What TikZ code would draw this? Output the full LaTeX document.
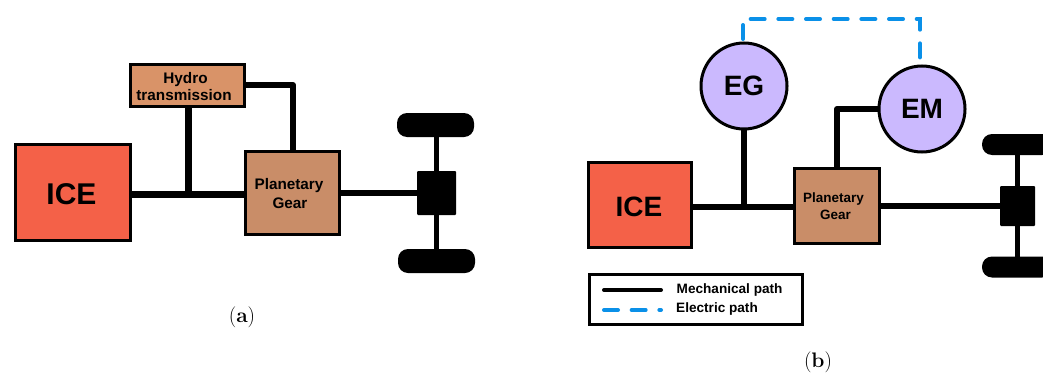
\documentclass[tikz,border=0pt]{standalone}
\usepackage{fontspec}
\newfontfamily\hvb[BoldFont={Liberation Sans Bold}]{Liberation Sans}
\definecolor{icered}{HTML}{F46148}
\definecolor{hydro}{HTML}{D99368}
\definecolor{plan}{HTML}{C98D68}
\definecolor{lilac}{HTML}{CBB9FE}
\definecolor{elec}{HTML}{0A90E8}
\tikzset{
  blockbox/.style={draw=black,line width=3pt,inner sep=0pt,outer sep=0pt,align=center,font=\hvb\bfseries},
  motor/.style={circle,draw=black,line width=3pt,fill=lilac,inner sep=0pt,outer sep=0pt,minimum size=86pt,font=\hvb\bfseries\fontsize{28}{30}\selectfont},
  wheel/.style={fill=black,rounded corners=10pt,inner sep=0pt,outer sep=0pt},
  diffbox/.style={fill=black,rounded corners=1pt,inner sep=0pt,outer sep=0pt},
  shaft/.style={line width=#1,draw=black,line join=round},
  shaft/.default=7pt,
  elecpath/.style={draw=elec,line width=4pt,line cap=round,dash pattern=on 14pt off 13.67pt},
  caption/.style={font=\fontsize{21}{23}\selectfont,inner sep=0pt},
  legendtext/.style={font=\hvb\bfseries\fontsize{13.6}{15}\selectfont,inner sep=0pt,anchor=west}
}
\begin{document}
\begin{tikzpicture}[x=1pt,y=-1pt]
\path[use as bounding box,clip] (0,0) rectangle (1043,372);
% (a)
\coordinate (ja) at (188,194);
\node[blockbox,fill=icered,minimum width=115pt,minimum height=96pt,font=\hvb\bfseries\fontsize{30}{32}\selectfont] (iceA) at (73,192.5) {\rule{0pt}{25pt}ICE\hspace*{3pt}};
\node[blockbox,fill=hydro,minimum width=114pt,minimum height=42pt,font=\hvb\bfseries\fontsize{15.3}{17}\selectfont] (hyd) at (187.5,85.5) {\rule{0pt}{13pt}Hydro\hspace*{4pt}\\transmission\hspace*{7pt}};
\node[blockbox,fill=plan,minimum width=94pt,minimum height=83pt,font=\hvb\bfseries\fontsize{15.3}{19}\selectfont] (pgA) at (292.5,193) {\rule{0pt}{13pt}Planetary\hspace*{7pt}\\Gear\hspace*{5pt}};
\node[diffbox,minimum width=39pt,minimum height=44pt] (diffA) at (436.5,193) {};
\node[wheel,minimum width=77pt,minimum height=24pt] (wtA) at (435.5,125) {};
\node[wheel,minimum width=77pt,minimum height=24pt] (wbA) at (436.5,261) {};
\draw[shaft] (iceA.east |- ja) -- (pgA.west |- ja);
\draw[shaft] (hyd.south -| ja) -- (ja);
\draw[shaft=6pt] (hyd.east |- 0,85) -- (293,85) -- (pgA.north -| 293,0);
\draw[shaft=6pt] (pgA.east |- diffA) -- (diffA.west);
\draw[shaft=5pt] (wtA.south -| diffA) -- (wbA.north -| diffA);
\node[caption] (capA) at (242,317) {(\textbf{a})};
% (b)
\coordinate (jb) at (744,207);
\node[blockbox,fill=icered,minimum width=103pt,minimum height=85pt,font=\hvb\bfseries\fontsize{28}{30}\selectfont] (iceB) at (640,205) {\rule{0pt}{23pt}ICE\hspace*{2pt}};
\node[motor] (eg) at (744,86) {EG};
\node[motor] (em) at (922,109) {EM};
\node[blockbox,fill=plan,minimum width=85pt,minimum height=75pt,font=\hvb\bfseries\fontsize{13.5}{16.5}\selectfont] (pgB) at (837,206) {Planetary\hspace*{7pt}\\Gear\hspace*{3pt}};
\node[diffbox,minimum width=35pt,minimum height=40pt] (diffB) at (1017.5,206) {};
\node[wheel,minimum width=70pt,minimum height=21pt] (wtB) at (1017,144.5) {};
\node[wheel,minimum width=70pt,minimum height=21pt] (wbB) at (1017,267) {};
\draw[shaft=6pt] (iceB.east |- jb) -- (pgB.west |- jb);
\draw[shaft=6pt] (eg.south) -- (jb);
\draw[shaft=6pt] (em.west) -- (837,109) -- (pgB.north);
\draw[shaft=6pt] (pgB.east |- diffB) -- (diffB.west);
\draw[shaft=5pt] (wtB.south -| diffB) -- (wbB.north -| diffB);
\draw[elecpath] ([xshift=-1pt,yshift=4pt]eg.north) |- (920,19) -- ([xshift=-2pt,yshift=7pt]em.north);
% legend
\node[draw=black,line width=3pt,inner sep=0pt,outer sep=0pt,minimum width=213pt,minimum height=50pt] (legend) at (695.5,299) {};
\coordinate (m1) at (604,290); \coordinate (m2) at (661,290);
\coordinate (e1) at (604,310); \coordinate (e2) at (661,310);
\draw[line width=4pt,line cap=round,draw=black] (m1) -- (m2);
\draw[elecpath] (e1) -- (e2);
\node[legendtext] (lm) at (676.5,290) {Mechanical path};
\node[legendtext] (le) at (676,308.5) {Electric path};
\node[caption] (capB) at (818,362) {(\textbf{b})};
\end{tikzpicture}
\end{document}
